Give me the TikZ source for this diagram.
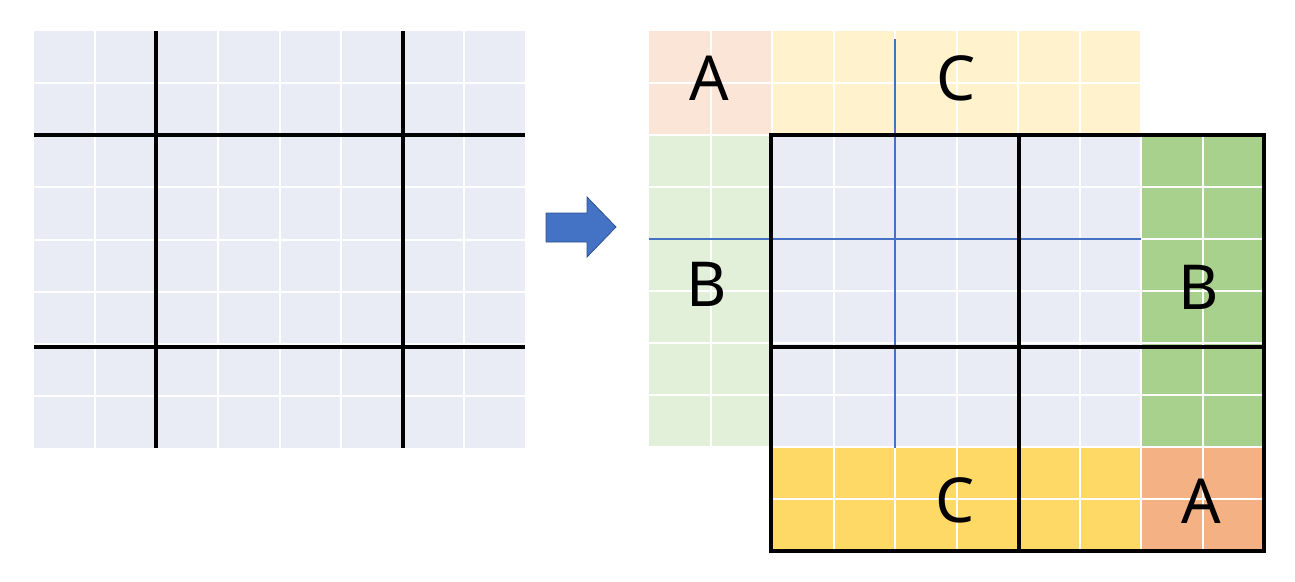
\documentclass[tikz,border=0pt]{standalone}
\usepackage{fontspec}
\setmainfont{Noto Sans}
\definecolor{lav}{HTML}{E9EBF5}
\definecolor{salmonL}{HTML}{FBE5D6}
\definecolor{yellowL}{HTML}{FFF2CC}
\definecolor{greenL}{HTML}{E2F0D9}
\definecolor{greenD}{HTML}{A9D18E}
\definecolor{goldD}{HTML}{FFD966}
\definecolor{orangeD}{HTML}{F4B183}
\definecolor{arrowblue}{HTML}{4472C4}
\definecolor{arrowedge}{HTML}{2F528F}
\begin{document}
\begin{tikzpicture}[x=1pt,y=-1pt,
  gridw/.style={draw=white, line width=2pt},
  heavy/.style={draw=black, line width=4.5pt},
  thinblue/.style={draw=arrowblue, line width=1.2pt},
  lbl/.style={font=\fontsize{62}{62}\selectfont, inner sep=0pt, anchor=center}]
\useasboundingbox (0,0) rectangle (1295,581);
% ---------- left grid ----------
\fill[lav] (34,31) rectangle (525,448);
\foreach \i in {1,...,7} {
  \draw[gridw] ({34+\i*61.375},31) -- ({34+\i*61.375},448);
  \draw[gridw] (34,{31+\i*52.125}) -- (525,{31+\i*52.125});
}
\draw[heavy] (156,31) -- (156,448);
\draw[heavy] (403,31) -- (403,448);
\draw[heavy] (34,135) -- (525,135);
\draw[heavy] (34,347) -- (525,347);
% ---------- arrow ----------
\filldraw[fill=arrowblue, draw=arrowedge, line width=0.8pt]
  (546,213) -- (587,213) -- (587,197) -- (616,227) -- (587,257) -- (587,242) -- (546,242) -- cycle;
% ---------- right grid ----------
\fill[salmonL] (649,31) rectangle (772,135);
\fill[yellowL] (772,31) rectangle (1141,135);
\fill[greenL] (649,135) rectangle (772,448);
\fill[lav] (772,135) rectangle (1141,448);
\fill[greenD] (1141,135) rectangle (1264,448);
\fill[goldD] (772,448) rectangle (1141,551);
\fill[orangeD] (1141,448) rectangle (1264,551);
\foreach \i in {1,...,9} {
  \draw[gridw] ({649+\i*61.5},31) -- ({649+\i*61.5},551);
  \draw[gridw] (649,{31+\i*52}) -- (1264,{31+\i*52});
}
\draw[thinblue] (895,39) -- (895,448);
\draw[thinblue] (649,239) -- (1141,239);
\draw[heavy] (771,135) rectangle (1264,551);
\draw[heavy] (1019,135) -- (1019,551);
\draw[heavy] (771,347) -- (1264,347);
% ---------- labels ----------
\node[lbl] (a1) at (709,78) {A};
\node[lbl] (c1) at (956,78) {C};
\node[lbl] (b1) at (707,284) {B};
\node[lbl] (b2) at (1199,287) {B};
\node[lbl] (c2) at (955,500) {C};
\node[lbl] (a2) at (1201,501) {A};
\end{tikzpicture}
\end{document}
